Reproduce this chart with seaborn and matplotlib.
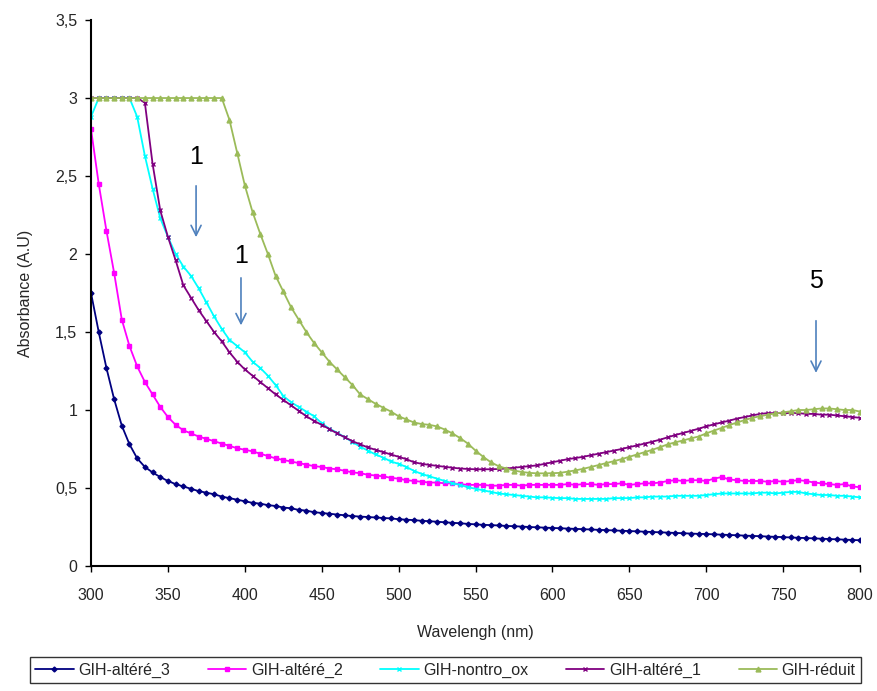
import numpy as np
import pandas as pd
import matplotlib
matplotlib.use("Agg")
import matplotlib.pyplot as plt
import seaborn as sns

sns.set_theme(style="white")
plt.rcParams['font.family'] = ['Liberation Sans', 'DejaVu Sans']

wavelength = list(range(300, 805, 5))

alt3 = [1.75, 1.50, 1.27, 1.07, 0.90, 0.78, 0.69, 0.635, 0.60, 0.57,
        0.545, 0.525, 0.51, 0.495, 0.48, 0.47, 0.46, 0.445, 0.435, 0.425,
        0.415, 0.405, 0.40, 0.39, 0.385, 0.375, 0.37, 0.36, 0.355, 0.345,
        0.34, 0.335, 0.33, 0.325, 0.32, 0.317, 0.314, 0.311, 0.308, 0.305,
        0.30, 0.297, 0.294, 0.29, 0.287, 0.284, 0.28, 0.277, 0.274, 0.27,
        0.267, 0.264, 0.262, 0.26, 0.257, 0.255, 0.253, 0.25, 0.248, 0.246,
        0.244, 0.242, 0.24, 0.238, 0.236, 0.234, 0.232, 0.23, 0.228, 0.226,
        0.224, 0.222, 0.22, 0.218, 0.216, 0.214, 0.212, 0.21, 0.208, 0.206,
        0.205, 0.203, 0.201, 0.199, 0.197, 0.195, 0.193, 0.191, 0.189, 0.187,
        0.185, 0.183, 0.181, 0.179, 0.177, 0.175, 0.173, 0.171, 0.169, 0.167,
        0.165]

alt2 = [2.80, 2.45, 2.15, 1.88, 1.58, 1.41, 1.28, 1.18, 1.10, 1.02,
        0.955, 0.905, 0.87, 0.85, 0.83, 0.815, 0.80, 0.785, 0.77, 0.755,
        0.745, 0.735, 0.72, 0.705, 0.69, 0.68, 0.67, 0.66, 0.65, 0.64,
        0.635, 0.625, 0.62, 0.61, 0.60, 0.595, 0.585, 0.58, 0.575, 0.565,
        0.56, 0.55, 0.545, 0.54, 0.535, 0.535, 0.53, 0.53, 0.525, 0.52,
        0.52, 0.52, 0.515, 0.515, 0.52, 0.52, 0.515, 0.52, 0.52, 0.52,
        0.52, 0.52, 0.525, 0.52, 0.525, 0.525, 0.52, 0.525, 0.525, 0.53,
        0.52, 0.525, 0.53, 0.53, 0.535, 0.545, 0.55, 0.545, 0.55, 0.55,
        0.545, 0.56, 0.57, 0.555, 0.55, 0.545, 0.545, 0.545, 0.54, 0.545,
        0.54, 0.545, 0.55, 0.545, 0.535, 0.53, 0.525, 0.52, 0.525, 0.51,
        0.505]

nontro_ox = [2.88, 3.0, 3.0, 3.0, 3.0, 3.0, 2.88, 2.63, 2.42, 2.23,
             2.11, 2.00, 1.92, 1.86, 1.78, 1.69, 1.60, 1.52, 1.45, 1.41,
             1.37, 1.31, 1.27, 1.22, 1.16, 1.09, 1.05, 1.02, 0.99, 0.96,
             0.915, 0.88, 0.855, 0.825, 0.795, 0.765, 0.74, 0.715, 0.695, 0.67,
             0.655, 0.635, 0.61, 0.59, 0.575, 0.56, 0.545, 0.53, 0.52, 0.505,
             0.495, 0.485, 0.475, 0.465, 0.46, 0.455, 0.45, 0.445, 0.44, 0.44,
             0.437, 0.435, 0.435, 0.43, 0.43, 0.43, 0.43, 0.43, 0.435, 0.435,
             0.435, 0.44, 0.44, 0.445, 0.445, 0.445, 0.45, 0.45, 0.45, 0.45,
             0.455, 0.46, 0.465, 0.465, 0.465, 0.465, 0.465, 0.47, 0.47, 0.465,
             0.47, 0.475, 0.475, 0.465, 0.46, 0.455, 0.455, 0.45, 0.45, 0.445,
             0.44]

alt1 = [3.0, 3.0, 3.0, 3.0, 3.0, 3.0, 3.0, 2.97, 2.58, 2.28,
        2.11, 1.96, 1.80, 1.72, 1.64, 1.57, 1.50, 1.44, 1.37, 1.31,
        1.26, 1.22, 1.18, 1.14, 1.10, 1.065, 1.03, 0.995, 0.96, 0.93,
        0.905, 0.878, 0.85, 0.825, 0.80, 0.78, 0.76, 0.745, 0.73, 0.715,
        0.70, 0.685, 0.665, 0.655, 0.648, 0.642, 0.636, 0.63, 0.625, 0.622,
        0.62, 0.62, 0.62, 0.622, 0.625, 0.63, 0.635, 0.64, 0.645, 0.655,
        0.665, 0.675, 0.685, 0.692, 0.70, 0.71, 0.72, 0.73, 0.74, 0.75,
        0.762, 0.773, 0.785, 0.797, 0.81, 0.825, 0.84, 0.853, 0.866, 0.88,
        0.895, 0.908, 0.92, 0.932, 0.945, 0.955, 0.965, 0.975, 0.98, 0.98,
        0.98, 0.98, 0.98, 0.975, 0.975, 0.97, 0.97, 0.965, 0.96, 0.955,
        0.95]

reduit = [3.0, 3.0, 3.0, 3.0, 3.0, 3.0, 3.0, 3.0, 3.0, 3.0,
          3.0, 3.0, 3.0, 3.0, 3.0, 3.0, 3.0, 3.0, 2.86, 2.65,
          2.44, 2.27, 2.13, 2.00, 1.86, 1.76, 1.66, 1.58, 1.50, 1.43,
          1.37, 1.31, 1.26, 1.21, 1.16, 1.10, 1.07, 1.04, 1.015, 0.99,
          0.96, 0.94, 0.92, 0.91, 0.905, 0.895, 0.875, 0.85, 0.82, 0.785,
          0.74, 0.70, 0.665, 0.64, 0.625, 0.612, 0.603, 0.597, 0.594, 0.594,
          0.595, 0.597, 0.605, 0.613, 0.623, 0.635, 0.647, 0.66, 0.672, 0.685,
          0.70, 0.715, 0.73, 0.745, 0.762, 0.78, 0.793, 0.805, 0.818, 0.83,
          0.85, 0.868, 0.885, 0.903, 0.92, 0.935, 0.95, 0.96, 0.97, 0.978,
          0.985, 0.992, 1.0, 1.0, 1.005, 1.01, 1.01, 1.005, 1.0, 1.0,
          0.99]

series_names = ["GIH-altéré_3", "GIH-altéré_2", "GIH-nontro_ox", "GIH-altéré_1", "GIH-réduit"]
series_values = [alt3, alt2, nontro_ox, alt1, reduit]
colors = ["#000080", "#FF00FF", "#00FFFF", "#800080", "#9BBB59"]
markers = ["D", "s", "x", "x", "^"]
msizes = [2.5, 3.5, 3.5, 3.5, 3.5]

x_ticks = [300, 350, 400, 450, 500, 550, 600, 650, 700, 750, 800]
y_ticks = [0, 0.5, 1, 1.5, 2, 2.5, 3, 3.5]
y_tick_labels = ["0", "0,5", "1", "1,5", "2", "2,5", "3", "3,5"]

annotations = [("1", 368.3, 2.62, 2.455, 2.09),
               ("1", 397.5, 1.99, 1.865, 1.525),
               ("5", 771.4, 1.83, 1.59, 1.22)]

fig = plt.figure(figsize=(8.77, 6.91), dpi=100)
ax = fig.add_axes([0.1038, 0.1809, 0.8768, 0.7901])

for name, vals, c, m, ms in zip(series_names, series_values, colors, markers, msizes):
    sns.lineplot(x=wavelength, y=vals, ax=ax, color=c, marker=m, markersize=ms,
                 markeredgecolor=c, markerfacecolor=c, markeredgewidth=1,
                 linewidth=1.3, label=name)

ax.set_xlim(300, 800)
ax.set_ylim(0, 3.5)
ax.set_xticks(x_ticks)
ax.set_xticklabels([str(t) for t in x_ticks], fontsize=11.5)
ax.set_yticks(y_ticks)
ax.set_yticklabels(y_tick_labels, fontsize=11.5)
ax.set_xlabel("Wavelengh (nm)", fontsize=11.5, labelpad=16)
ax.set_ylabel("Absorbance (A.U)", fontsize=11.5, labelpad=16)

for side in ["top", "right"]:
    ax.spines[side].set_visible(False)
for side in ["left", "bottom"]:
    ax.spines[side].set_color("black")
    ax.spines[side].set_linewidth(1.5)
ax.tick_params(axis="y", which="both", direction="out", length=4, width=1,
               color="black", left=True, pad=6)
ax.tick_params(axis="x", which="both", direction="out", length=4, width=1,
               color="black", bottom=True, pad=12)
ax.grid(False)

for txt, xv, ty, a0, a1 in annotations:
    ax.text(xv, ty, txt, fontsize=18, ha="center", va="center", color="black")
    ax.annotate("", xy=(xv, a1), xytext=(xv, a0),
                arrowprops=dict(arrowstyle="->", color="#4F81BD", lw=1.2,
                                mutation_scale=18))

if ax.legend_:
    ax.legend_.remove()
handles, labels = ax.get_legend_handles_labels()
leg = fig.legend(handles, labels, loc="upper center", bbox_to_anchor=(0.508, 0.049),
                 ncol=5, fontsize=11.5, frameon=True, fancybox=False,
                 edgecolor="black", borderpad=0.35, columnspacing=2.35,
                 handlelength=2.4, handletextpad=0.3, borderaxespad=0)
leg.get_frame().set_linewidth(1.0)

fig.savefig("out.png", dpi=100, facecolor="white")
